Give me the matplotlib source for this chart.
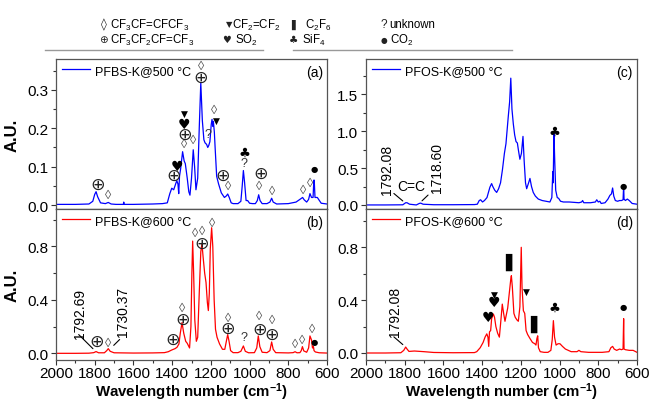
import matplotlib
matplotlib.use("Agg")
import matplotlib.pyplot as plt
from matplotlib.lines import Line2D
from matplotlib.ticker import MultipleLocator

plt.rcParams['font.family'] = ['Liberation Sans', 'DejaVu Sans']
plt.rcParams['mathtext.fontset'] = 'custom'
plt.rcParams['mathtext.rm'] = 'Liberation Sans'
plt.rcParams['mathtext.it'] = 'Liberation Sans:italic'
plt.rcParams['mathtext.bf'] = 'Liberation Sans:bold'

# ---------------- data ----------------
pfbs500_wn = [2000, 1900, 1830, 1810, 1800, 1793, 1785, 1770, 1745, 1730, 1715, 1690, 1652, 1650, 1648,
              1600, 1500, 1450, 1425, 1412, 1402, 1392, 1380, 1376, 1370, 1366, 1362, 1356, 1346, 1338,
              1332, 1322, 1314, 1308, 1300, 1291, 1284, 1277, 1268, 1260, 1252, 1244, 1236, 1230, 1222,
              1216, 1211, 1205, 1198, 1194, 1190, 1187, 1182, 1178, 1170, 1160, 1146, 1130, 1120, 1113,
              1105, 1095, 1085, 1060, 1045, 1038, 1032, 1026, 1018, 1010, 1000, 985, 970, 960, 953, 946,
              935, 910, 895, 886, 878, 860, 800, 760, 740, 726, 718, 705, 695, 688, 680, 672, 668, 666,
              662, 650, 630, 600]
pfbs500_au = [0.002, 0.002, 0.003, 0.010, 0.028, 0.035, 0.022, 0.006, 0.004, 0.007, 0.003, 0.002, 0.002, 0.008, 0.002,
              0.002, 0.003, 0.004, 0.006, 0.030, 0.044, 0.040, 0.058, 0.064, 0.055, 0.030, 0.075, 0.095, 0.139, 0.115,
              0.108, 0.070, 0.035, 0.026, 0.070, 0.144, 0.100, 0.040, 0.070, 0.200, 0.318, 0.220, 0.170, 0.162, 0.158,
              0.150, 0.155, 0.165, 0.210, 0.223, 0.205, 0.218, 0.190, 0.150, 0.075, 0.055, 0.032, 0.020, 0.024, 0.029,
              0.020, 0.006, 0.004, 0.004, 0.010, 0.050, 0.090, 0.060, 0.012, 0.012, 0.005, 0.004, 0.004, 0.012, 0.027, 0.012,
              0.004, 0.004, 0.008, 0.018, 0.008, 0.003, 0.004, 0.008, 0.015, 0.020, 0.014, 0.008, 0.015, 0.030, 0.020, 0.020, 0.065, 0.065,
              0.020, 0.020, 0.005, 0.003]

pfbs600_wn = [2000, 1900, 1830, 1805, 1793, 1780, 1750, 1738, 1730, 1720, 1700, 1600, 1500, 1440, 1420,
              1402, 1385, 1375, 1365, 1358, 1349, 1340, 1330, 1322, 1310, 1303, 1298, 1294, 1289, 1283,
              1275, 1268, 1260, 1252, 1246, 1240, 1232, 1225, 1218, 1213, 1208, 1203, 1196, 1190, 1183,
              1176, 1168, 1155, 1140, 1128, 1120, 1113, 1106, 1098, 1085, 1060, 1045, 1032, 1022, 1005,
              975, 963, 955, 947, 935, 910, 895, 886, 878, 865, 800, 775, 765, 755, 740, 733, 727, 720,
              705, 695, 688, 680, 675, 670, 667, 660, 640, 600]
pfbs600_au = [0.000, 0.000, 0.001, 0.005, 0.013, 0.004, 0.004, 0.020, 0.035, 0.015, 0.004, 0.002, 0.003, 0.005, 0.012,
              0.025, 0.035, 0.045, 0.070, 0.150, 0.230, 0.150, 0.090, 0.075, 0.040, 0.200, 0.600, 0.840, 0.600, 0.250,
              0.090, 0.120, 0.450, 0.760, 0.820, 0.720, 0.600, 0.530, 0.380, 0.320, 0.450, 0.780, 0.940, 0.800, 0.400,
              0.180, 0.120, 0.070, 0.030, 0.030, 0.090, 0.140, 0.090, 0.020, 0.005, 0.005, 0.015, 0.055, 0.015, 0.004,
              0.005, 0.040, 0.130, 0.050, 0.008, 0.005, 0.020, 0.085, 0.030, 0.005, 0.003, 0.005, 0.012, 0.004, 0.005, 0.020, 0.050, 0.018,
              0.008, 0.040, 0.130, 0.100, 0.040, 0.050, 0.020, 0.010, 0.004, 0.002]

pfos500_wn = [2000, 1900, 1810, 1795, 1788, 1775, 1740, 1725, 1718, 1705, 1650, 1550, 1440, 1425, 1415,
              1408, 1398, 1388, 1375, 1360, 1351, 1345, 1335, 1325, 1315, 1305, 1295, 1285, 1277, 1265,
              1258, 1252, 1246, 1239, 1232, 1225, 1218, 1213, 1205, 1197, 1189, 1183, 1176, 1170, 1160,
              1153, 1145, 1136, 1125, 1110, 1090, 1070, 1050, 1040, 1035, 1033, 1029, 1025, 1020, 1012,
              1005, 995, 980, 950, 900, 886, 881, 875, 840, 815, 808, 800, 792, 785, 765, 750, 740, 732,
              726, 720, 712, 700, 690, 680, 672, 669, 667, 660, 650, 640, 625, 600]
pfos500_au = [0.00, 0.00, 0.002, 0.03, 0.03, 0.01, 0.00, 0.02, 0.025, 0.01, 0.003, 0.003, 0.005, 0.01, 0.06,
              0.07, 0.04, 0.06, 0.10, 0.24, 0.29, 0.25, 0.20, 0.17, 0.22, 0.30, 0.48, 0.70, 0.83, 1.20,
              1.40, 1.72, 1.30, 1.10, 0.95, 0.86, 0.84, 0.75, 0.62, 0.70, 0.93, 0.60, 0.30, 0.22, 0.30,
              0.36, 0.25, 0.17, 0.12, 0.08, 0.06, 0.05, 0.04, 0.10, 0.45, 0.30, 0.97, 0.60, 0.20, 0.10,
              0.09, 0.05, 0.04, 0.04, 0.03, 0.04, 0.06, 0.03, 0.03, 0.04, 0.07, 0.04, 0.05, 0.02, 0.03, 0.08, 0.13, 0.15,
              0.23, 0.12, 0.06, 0.05, 0.06, 0.06, 0.07, 0.26, 0.08, 0.06, 0.08, 0.06, 0.02, 0.01]

pfos600_wn = [2000, 1900, 1820, 1805, 1795, 1788, 1778, 1750, 1700, 1650, 1550, 1440, 1428, 1410, 1395,
              1385, 1376, 1370, 1366, 1362, 1356, 1351, 1342, 1336, 1329, 1320, 1311, 1303, 1296, 1289,
              1282, 1275, 1268, 1260, 1252, 1249, 1244, 1236, 1229, 1220, 1213, 1205, 1198, 1194, 1187,
              1180, 1173, 1165, 1153, 1140, 1128, 1122, 1117, 1113, 1109, 1100, 1080, 1060, 1045, 1038,
              1032, 1026, 1018, 1008, 998, 985, 970, 940, 910, 900, 890, 850, 780, 745, 735, 726, 718,
              705, 690, 680, 672, 669, 667, 660, 640, 620, 600]
pfos600_au = [0.000, 0.000, 0.002, 0.020, 0.045, 0.030, 0.012, 0.015, 0.010, 0.004, 0.002, 0.003, 0.010, 0.040, 0.080,
              0.120, 0.145, 0.120, 0.050, 0.160, 0.170, 0.260, 0.295, 0.270, 0.200, 0.150, 0.120, 0.250, 0.370, 0.300,
              0.240, 0.290, 0.340, 0.450, 0.560, 0.585, 0.500, 0.300, 0.270, 0.250, 0.240, 0.350, 0.800, 0.500, 0.320,
              0.300, 0.170, 0.140, 0.110, 0.080, 0.070, 0.060, 0.110, 0.130, 0.040, 0.010, 0.005, 0.005, 0.020, 0.100,
              0.245, 0.120, 0.060, 0.070, 0.070, 0.050, 0.030, 0.010, 0.010, 0.020, 0.010, 0.005, 0.005, 0.010, 0.040, 0.050, 0.030,
              0.020, 0.030, 0.025, 0.030, 0.260, 0.030, 0.025, 0.020, 0.020, 0.005]

x_ticks = [2000, 1800, 1600, 1400, 1200, 1000, 800, 600]

labels = ["PFBS-K@500 °C", "PFBS-K@600 °C", "PFOS-K@500 °C", "PFOS-K@600 °C"]
panel_tags = ["(a)", "(b)", "(c)", "(d)"]

# peak assignment marks: (wavenumber, height, symbol)
marks_a = [(1785, 0.055, '⊕'), (1730, 0.027, '◊'), (1394, 0.078, '⊕'), (1376, 0.103, '♥'),
           (1340, 0.160, '◊'), (1337, 0.185, '⊕'), (1337, 0.211, '♥'), (1337, 0.238, '▼'),
           (1291, 0.170, '◊'), (1251, 0.362, '◊'), (1251, 0.333, '⊕'), (1213, 0.185, '?'),
           (1185, 0.248, '◊'), (1172, 0.221, '▼'), (1139, 0.079, '⊕'), (1113, 0.050, '◊'),
           (1027, 0.138, '♣'), (1027, 0.109, '?'), (942, 0.083, '⊕'), (950, 0.049, '◊'),
           (886, 0.036, '◊'), (724, 0.040, '◊'), (688, 0.057, '◊'), (666, 0.096, '●')]
marks_b = [(1788, 0.092, '⊕'), (1730, 0.075, '◊'), (1397, 0.110, '⊕'), (1347, 0.337, '◊'),
           (1347, 0.260, '⊕'), (1284, 0.900, '◊'), (1246, 0.913, '◊'), (1250, 0.830, '⊕'),
           (1193, 0.975, '◊'), (1113, 0.268, '◊'), (1112, 0.187, '⊕'), (1027, 0.122, '?'),
           (950, 0.280, '◊'), (949, 0.185, '⊕'), (886, 0.248, '◊'), (884, 0.142, '⊕'),
           (764, 0.068, '◊'), (727, 0.098, '◊'), (679, 0.180, '◊'), (666, 0.092, '●')]
marks_c = [(1029, 1.00, '♣'), (671, 0.27, '●')]
marks_d = [(1368, 0.270, '♥'), (1337, 0.447, '▼'), (1337, 0.384, '♥'), (1247, 0.700, '▌'),
           (1170, 0.470, '▼'), (1117, 0.225, '▌'), (1027, 0.346, '♣'), (671, 0.350, '●')]

sym_style = {
    '◊': dict(color='#555555', fontsize=9),
    '⊕': dict(color='#222222', fontsize=12.5, family='DejaVu Sans'),
    '▼': dict(color='black', fontsize=6.5, family='DejaVu Sans'),
    '♥': dict(color='black', fontsize=10, family='DejaVu Sans'),
    '♣': dict(color='black', fontsize=9.5, family='DejaVu Sans'),
    '●': dict(color='black', fontsize=6, family='DejaVu Sans'),
    '▌': dict(color='black', fontsize=12, family='DejaVu Sans'),
    '?': dict(color='#333333', fontsize=9),
}

# ---------------- figure ----------------
W, H = 651, 402
fig = plt.figure(figsize=(W / 100, H / 100), dpi=100)

def rect(x0, y0, x1, y1):
    return [x0 / W, 1 - y1 / H, (x1 - x0) / W, (y1 - y0) / H]

ax_a = fig.add_axes(rect(56, 60, 327, 210))
ax_b = fig.add_axes(rect(56, 210, 327, 361))
ax_c = fig.add_axes(rect(366, 60, 637, 210))
ax_d = fig.add_axes(rect(366, 210, 637, 361))
axes = [ax_a, ax_b, ax_c, ax_d]

series = [(pfbs500_wn, pfbs500_au, '#0000ff'), (pfbs600_wn, pfbs600_au, '#ff0000'),
          (pfos500_wn, pfos500_au, '#0000ff'), (pfos600_wn, pfos600_au, '#ff0000')]
ylims = [(-0.01, 0.38), (-0.05, 1.08), (-0.055, 1.98), (-0.053, 1.09)]
ymaj = [0.1, 0.4, 0.5, 0.4]

for i, ax in enumerate(axes):
    wn, au, col = series[i]
    ax.plot(wn, au, color=col, lw=0.9, label=labels[i])
    ax.set_xlim(2000, 600)
    ax.set_ylim(*ylims[i])
    ax.yaxis.set_major_locator(MultipleLocator(ymaj[i]))
    ax.yaxis.set_minor_locator(MultipleLocator(ymaj[i] / 2))
    ax.xaxis.set_major_locator(MultipleLocator(200))
    ax.xaxis.set_minor_locator(MultipleLocator(100))
    ax.yaxis.set_major_formatter(plt.FormatStrFormatter('%.1f'))
    ax.tick_params(axis='both', which='major', direction='out', length=3.5, width=0.8, pad=2,
                   labelsize=11, colors='#333333', labelcolor='black')
    ax.tick_params(axis='both', which='minor', direction='out', length=2.2, width=0.8, colors='#333333')
    for s in ax.spines.values():
        s.set_color('#555555')
        s.set_linewidth(0.9)
    ax.legend(loc='upper left', frameon=False, fontsize=9, handlelength=2.3,
              handletextpad=0.4, borderaxespad=0.25, borderpad=0.2)
    ax.text(0.985, 0.915, panel_tags[i], transform=ax.transAxes, ha='right', va='center', fontsize=10)

for ax in (ax_a, ax_c):
    ax.tick_params(axis='x', which='both', bottom=False, labelbottom=False)
    ax.spines['bottom'].set_color('black')
for ax in (ax_b, ax_d):
    ax.set_xticks(x_ticks)
    ax.tick_params(axis='x', which='major', pad=1)
    ax.set_xlabel('Wavelength number (cm$^{\\mathbf{-1}}$)', fontsize=10.8, fontweight='bold', labelpad=0)
for ax in (ax_a, ax_b):
    ax.set_ylabel('A.U.', fontsize=12, fontweight='bold')
    ax.yaxis.set_label_coords(-0.135, 0.5)

for ax, marks in zip(axes, [marks_a, marks_b, marks_c, marks_d]):
    for x, y, s in marks:
        ax.text(x, y, s, ha='center', va='center', **sym_style[s])

# peak position call-outs
ax_b.text(1876, 0.30, '1792.69', rotation=90, ha='center', va='center', fontsize=10)
ax_b.annotate('', xy=(1799, 0.02), xytext=(1893, 0.155), arrowprops=dict(arrowstyle='-', lw=0.8, color='black'))
ax_b.text(1652, 0.317, '1730.37', rotation=90, ha='center', va='center', fontsize=10)
ax_b.annotate('', xy=(1712, 0.045), xytext=(1661, 0.118), arrowprops=dict(arrowstyle='-', lw=0.8, color='black'))

ax_c.text(1893, 0.49, '1792.08', rotation=90, ha='center', va='center', fontsize=10)
ax_c.text(1764, 0.255, 'C=C', ha='center', va='center', fontsize=10)
ax_c.text(1632, 0.51, '1718.60', rotation=90, ha='center', va='center', fontsize=10)
ax_c.annotate('', xy=(1799, 0.03), xytext=(1867, 0.18), arrowprops=dict(arrowstyle='-', lw=0.8, color='black'))
ax_c.annotate('', xy=(1721, 0.03), xytext=(1669, 0.16), arrowprops=dict(arrowstyle='-', lw=0.8, color='black'))

ax_d.text(1850, 0.32, '1792.08', rotation=90, ha='center', va='center', fontsize=10)
ax_d.annotate('', xy=(1799, 0.05), xytext=(1867, 0.136), arrowprops=dict(arrowstyle='-', lw=0.8, color='black'))

# ---------------- symbol key at the top ----------------
key_syms = [['◊', '▼', '▌', '?'], ['⊕', '♥', '♣', '●']]
key_texts = [['CF$_3$CF=CFCF$_3$', 'CF$_2$=CF$_2$', 'C$_2$F$_6$', 'unknown'],
             ['CF$_3$CF$_2$CF=CF$_3$', 'SO$_2$', 'SiF$_4$', 'CO$_2$']]
sym_end = [[107, 232, 299, 387], [107.5, 231, 298, 387]]
txt_x = [[109.5, 232.5, 305, 389.5], [110, 235, 302, 390]]
key_sym_size = [[8.5, 6, 7, 8.5], [7.5, 7, 7.5, 5.5]]
key_y = [25, 40]
for r in range(2):
    for c in range(4):
        fam = 'Liberation Sans' if key_syms[r][c] == '?' else 'DejaVu Sans'
        fig.text(sym_end[r][c] / W, 1 - key_y[r] / H, key_syms[r][c], ha='right', va='center',
                 fontsize=key_sym_size[r][c], family=fam, color='#222222')
        fig.text(txt_x[r][c] / W, 1 - key_y[r] / H, key_texts[r][c], ha='left', va='center', fontsize=8.3)

fig.add_artist(Line2D([45 / W, 263 / W], [1 - 51 / H, 1 - 51 / H], color='#999999', lw=1))
fig.add_artist(Line2D([293 / W, 512 / W], [1 - 51 / H, 1 - 51 / H], color='#999999', lw=1))

fig.savefig('out.png', dpi=100)
